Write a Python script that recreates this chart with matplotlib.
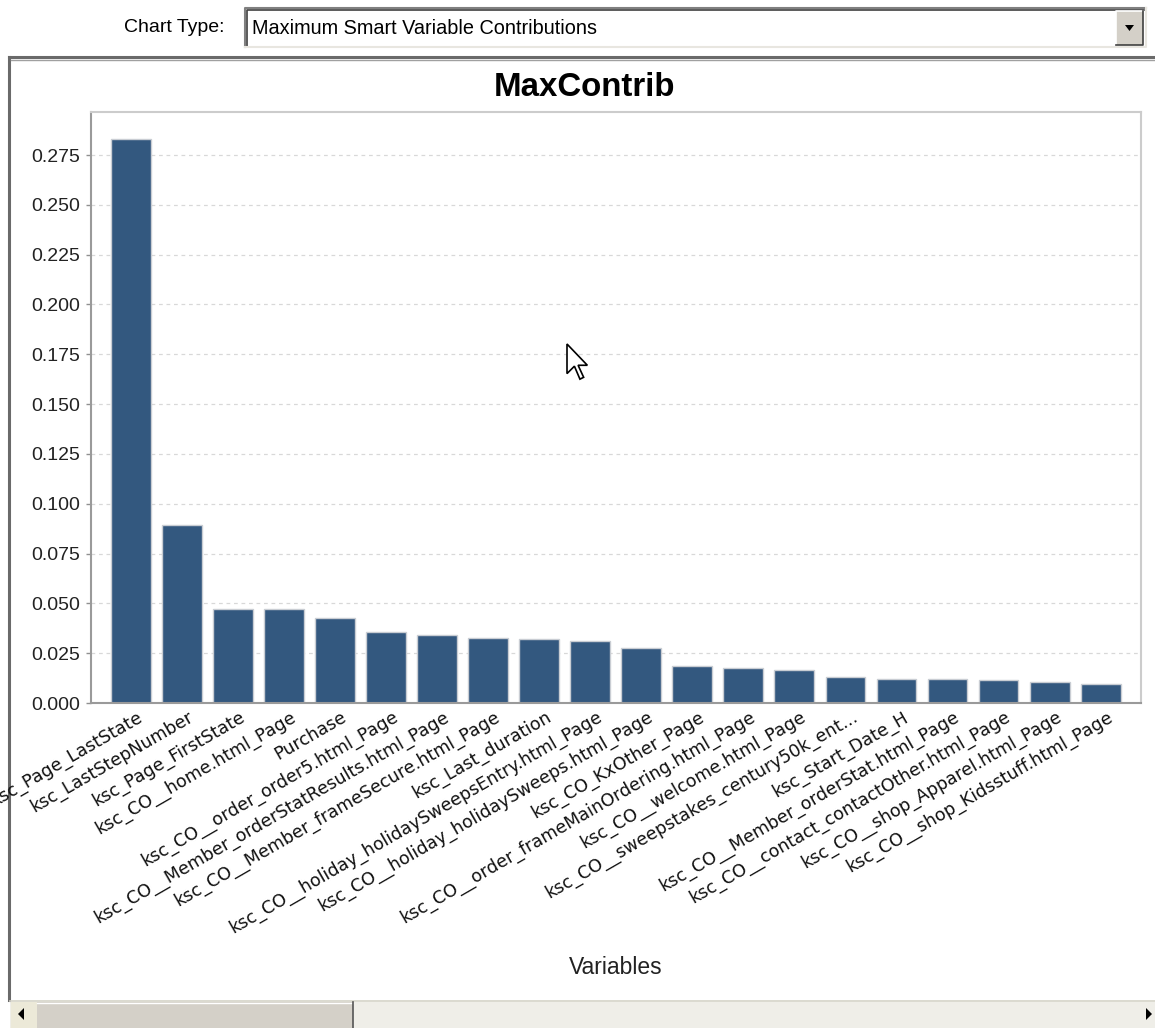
import matplotlib
matplotlib.use("Agg")
import matplotlib.pyplot as plt
from matplotlib.patches import Rectangle, Polygon
from matplotlib.lines import Line2D
import matplotlib.transforms as mtransforms

# ---- data -------------------------------------------------------------
variables = [
    "ksc_Page_LastState",
    "ksc_LastStepNumber",
    "ksc_Page_FirstState",
    "ksc_CO__home.html_Page",
    "Purchase",
    "ksc_CO__order_order5.html_Page",
    "ksc_CO__Member_orderStatResults.html_Page",
    "ksc_CO__Member_frameSecure.html_Page",
    "ksc_Last_duration",
    "ksc_CO__holiday_holidaySweepsEntry.html_Page",
    "ksc_CO__holiday_holidaySweeps.html_Page",
    "ksc_CO_KxOther_Page",
    "ksc_CO__order_frameMainOrdering.html_Page",
    "ksc_CO__welcome.html_Page",
    "ksc_CO__sweepstakes_century50k_ent...",
    "ksc_Start_Date_H",
    "ksc_CO__Member_orderStat.html_Page",
    "ksc_CO__contact_contactOther.html_Page",
    "ksc_CO__shop_Apparel.html_Page",
    "ksc_CO__shop_Kidsstuff.html_Page",
]
max_contrib = [
    0.2832, 0.0895, 0.0473, 0.0473, 0.0426, 0.0357, 0.0343, 0.0324,
    0.0323, 0.0313, 0.0278, 0.0184, 0.0175, 0.0165, 0.0129, 0.0120,
    0.0120, 0.0116, 0.0103, 0.0097,
]
y_ticks = [0.000, 0.025, 0.050, 0.075, 0.100, 0.125, 0.150, 0.175,
           0.200, 0.225, 0.250, 0.275]

chart_title = "MaxContrib"
x_title = "Variables"
chart_type_label = "Chart Type:"
chart_type_value = "Maximum Smart Variable Contributions"

# ---- figure -----------------------------------------------------------
W, H = 1155, 1028
DPI = 100
fig = plt.figure(figsize=(W / DPI, H / DPI), dpi=DPI, facecolor="white")

# pixel-space layer for the surrounding window controls
ui = fig.add_axes([0, 0, 1, 1], zorder=0)
ui.set_xlim(0, W)
ui.set_ylim(H, 0)
ui.axis("off")

def rect(x0, y0, x1, y1, **kw):
    ui.add_patch(Rectangle((x0, y0), x1 - x0, y1 - y0, **kw))

def line(xs, ys, **kw):
    ui.add_line(Line2D(xs, ys, **kw))

# "Chart Type" combo box
ui.text(224, 28, chart_type_label, ha="right", va="center",
        fontsize=14, family="Liberation Sans", color="#000000")
rect(245, 8, 1146, 47, facecolor="white", edgecolor="none")
line([245, 245, 1146], [47, 8, 8], color="#808080", lw=1.5)
line([247, 247, 1144], [46, 10, 10], color="#404040", lw=1.2)
line([245, 1146, 1146], [47, 47, 8], color="#e8e6e0", lw=1.5)
ui.text(252, 28, chart_type_value, ha="left", va="center",
        fontsize=14.3, family="Liberation Sans", color="#000000")
rect(1116, 11, 1143, 45, facecolor="#d4d0c8", edgecolor="none")
line([1116, 1116, 1143], [45, 11, 11], color="#ffffff", lw=1.2)
line([1116, 1143, 1143], [45, 45, 11], color="#404040", lw=1.2)
ui.add_patch(Polygon([[1125, 25], [1134, 25], [1129.5, 31]],
                     closed=True, facecolor="black", edgecolor="none"))

# chart panel frame
line([9, 1155], [57, 57], color="#6a6a6a", lw=2.2)
line([9, 9], [57, 1000], color="#6a6a6a", lw=2.2)
line([11, 1155], [59.5, 59.5], color="#a0a0a0", lw=1)

# horizontal scroll bar
rect(10, 1000, 1155, 1028, facecolor="#efeee8", edgecolor="none")
line([10, 1155], [1000.5, 1000.5], color="#d8d6cc", lw=1.2)
rect(11, 1002, 37, 1028, facecolor="#ece9d8", edgecolor="none")
ui.add_patch(Polygon([[24, 1008], [24, 1020], [18, 1014]], closed=True,
                     facecolor="black", edgecolor="none"))
rect(37, 1002, 353, 1028, facecolor="#d4d0c8", edgecolor="none")
line([37, 353], [1002.5, 1002.5], color="#ffffff", lw=1)
line([353, 353], [1002, 1028], color="#555555", lw=1.2)
ui.add_patch(Polygon([[1146, 1008], [1146, 1020], [1152, 1014]], closed=True,
                     facecolor="black", edgecolor="none"))

# ---- chart ------------------------------------------------------------
ax_left, ax_right, ax_top, ax_bottom = 91, 1141, 112, 703
ax = fig.add_axes([ax_left / W, 1 - ax_bottom / H,
                   (ax_right - ax_left) / W, (ax_bottom - ax_top) / H],
                  zorder=1)
ax.set_facecolor("none")

positions = list(range(len(variables)))
ax.bar(positions, max_contrib, width=0.78, color="#33587f",
       edgecolor="#c9cdd3", linewidth=1.0, zorder=2)

ax.set_xlim(-0.78, len(variables) - 1 + 0.79)
ax.set_ylim(0, 0.2966)
ax.set_yticks(y_ticks)
ax.set_yticklabels([f"{v:.3f}" for v in y_ticks],
                   fontsize=14, family="Liberation Sans", color="#222222")
ax.yaxis.grid(True, color="#d8d8d8", linestyle=(0, (3, 3)), linewidth=0.9,
              zorder=0)
ax.set_axisbelow(True)
ax.tick_params(axis="y", length=3.5, width=1, color="#909090", pad=4.5)
ax.tick_params(axis="x", length=0, pad=3.5)

ax.set_xticks(positions)
ax.set_xticklabels(variables, rotation=30, ha="right", va="top",
                   rotation_mode="anchor", fontsize=12.6,
                   family="DejaVu Sans", color="#111111")
shift = mtransforms.ScaledTranslation(6 / DPI, 0, fig.dpi_scale_trans)
for lbl in ax.get_xticklabels():
    lbl.set_transform(lbl.get_transform() + shift)
    lbl.set_clip_on(False)

for side in ("top", "right"):
    ax.spines[side].set_color("#cccccc")
    ax.spines[side].set_linewidth(1.5)
for side in ("left", "bottom"):
    ax.spines[side].set_color("#9a9a9a")
    ax.spines[side].set_linewidth(1.5)

# titles
ui.text(585, 88, chart_title, ha="center", va="center", fontsize=23.8,
        fontweight="bold", family="Liberation Sans", color="#000000")
ui.text((ax_left + ax_right) / 2, 967, x_title, ha="center", va="center",
        fontsize=16.5, family="Liberation Sans", color="#222222")

# mouse pointer resting over the plot
tip_x, tip_y, s = 567, 344, 1.85
arrow = [(0, 0), (0, 16), (4, 12), (7, 19), (9, 18), (6, 11.5), (11, 11.5)]
fig.add_artist(Polygon([(tip_x + s * px, tip_y + s * py) for px, py in arrow],
                       closed=True, facecolor="white", edgecolor="black",
                       linewidth=1.2, transform=ui.transData, zorder=10))

fig.savefig("out.png", dpi=DPI, facecolor="white")
